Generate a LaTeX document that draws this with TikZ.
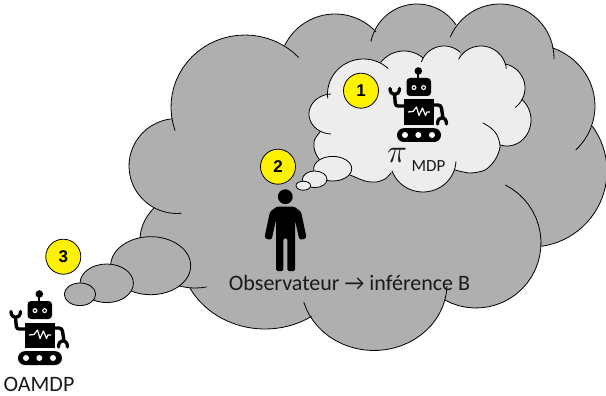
\documentclass[tikz,border=0pt]{standalone}
\usepackage{fontspec}
\setmainfont{Carlito}
\newfontfamily\numfont{Liberation Sans}
\definecolor{cloudgray}{HTML}{AFAFAF}
\definecolor{innergray}{HTML}{EDEDED}
\definecolor{inktext}{HTML}{1A1A1A}
\tikzset{
  outline/.style={draw=black,line width=0.8pt,line cap=round},
  numdot/.style={circle,draw=black,line width=0.8pt,fill=yellow,minimum size=35pt,inner sep=0pt,font=\numfont\bfseries\fontsize{17}{17}\selectfont},
  label text/.style={text=inktext,inner sep=0pt},
  robot/.pic={
    \fill[black] (418.3,71) circle (3.8);
    \draw[black,line width=2.2pt] (418.3,72) -- (418.3,80);
    \fill[black,rounded corners=3.5pt] (406.5,78) rectangle (431,96);
    \foreach \ex in {414,423.6}{
      \fill[white] (\ex,87.6) circle (2.5);
      \fill[black] (\ex,87.6) circle (1.3);
    }
    \fill[black] (403.5,99.5) rectangle (433.5,125);
    \draw[white,line width=1.2pt,line join=round] (408,112) -- (413,111.5) -- (416.5,107) -- (419,115.5) -- (422.5,108) -- (425.5,115.5) -- (427,112) -- (430,112);
    \draw[black,line width=3.4pt,line join=round,rounded corners=2.5pt] (405,106) -- (395.5,106) -- (394.5,94);
    \draw[black,line width=3.3pt,line cap=round] (390,88.5) .. controls (390,96.5) and (399.5,96.5) .. (399.5,88.5);
    \draw[black,line width=3.4pt,rounded corners=3pt] (432,105) -- (441,105) -- (443,118);
    \draw[black,line width=3.3pt,line cap=round] (437.5,124) .. controls (437.5,115.5) and (446.5,115.5) .. (446.5,124);
    \fill[black,rounded corners=6.8pt] (397,128.2) rectangle (441,142);
    \foreach \wx in {405,418.3,432}{ \fill[white] (\wx,135) circle (3); }
  }
}
% one lobe: centre x, centre y, x radius, y radius, first angle, last angle
\newcommand\ar[6]{plot[domain=#5:#6,samples=28] ({#1+#3*cos(\noexpand\x)},{#2+#4*sin(\noexpand\x)})}
\newcommand\pp[1]{plot[smooth] coordinates {#1}}
% big cloud lobes
\def\La{\ar{245}{107}{74}{72}{-43.6}{-199}}
\def\Lb{\ar{177}{166}{48}{47.5}{-96}{-275}}
\def\Lc{\ar{195}{240}{55}{48}{-139}{-282}}
\def\Ld{\ar{265}{252}{85}{77}{152}{57}}
\def\Le{\ar{374}{284}{73}{66.5}{164}{2}}
\def\Lf{\ar{476}{243}{65}{65}{119}{-63}}
\def\Lg{\ar{531}{171}{76}{76}{82}{-36}}
\def\Lh{\ar{530}{106}{65}{62}{45}{-70}}
\def\Li{\ar{500}{58}{54}{54}{1}{-157}}
\def\Lj{\ar{417}{51}{47}{47}{-34}{-168}}
\def\Lk{\ar{335}{70}{56}{56}{-43}{-154}}
% inner cloud lobes
\def\Ia{\ar{363.5}{94}{36}{35}{-47}{-187}}
\def\Ib{\ar{332}{114}{23}{20}{-93}{-267}}
\def\Ic{\pp{(320,132) (314.5,140) (314.5,150) (320,160) (335,169) (350,175) (365,181) (376,182) (385,179) (391,173)}}
\def\Id{\ar{423}{160}{33}{32}{160}{3}}
\def\Ie{\pp{(455,170) (470,173) (485,170) (495,160) (500,147) (497,135) (491,128) (483,123)}}
\def\If{\ar{507}{120}{24}{26}{106}{-52}}
\def\Ig{\ar{500}{88}{25}{24.5}{52}{-78}}
\def\Ih{\ar{481}{71.5}{25.5}{25.5}{-7}{-151}}
\def\Ii{\ar{444}{70}{24}{24}{-47}{-160}}
\def\Ij{\ar{404}{80.5}{29.5}{29.5}{-50}{-142}}
\newcommand\strokelobe[1]{\edef\lobetmp{\noexpand\draw[outline] #1;}\lobetmp}
\begin{document}
\begin{tikzpicture}[x=1pt,y=-1pt]
\useasboundingbox (0,0) rectangle (606,396);
\edef\bigfill{\noexpand\fill[cloudgray] \La -- \Lb -- \Lc -- \Ld -- \Le -- \Lf -- \Lg -- \Lh -- \Li -- \Lj -- \Lk -- cycle;}
\bigfill
\strokelobe{\La}\strokelobe{\Lb}\strokelobe{\Lc}\strokelobe{\Ld}\strokelobe{\Le}\strokelobe{\Lf}\strokelobe{\Lg}\strokelobe{\Lh}\strokelobe{\Li}\strokelobe{\Lj}\strokelobe{\Lk}
\edef\innerfill{\noexpand\fill[innergray] \Ia -- \Ib -- \Ic -- \Id -- \Ie -- \If -- \Ig -- \Ih -- \Ii -- \Ij -- cycle;}
\innerfill
\strokelobe{\Ia}\strokelobe{\Ib}\strokelobe{\Ic}\strokelobe{\Id}\strokelobe{\Ie}\strokelobe{\If}\strokelobe{\Ig}\strokelobe{\Ih}\strokelobe{\Ii}\strokelobe{\Ij}
% inner thought bubbles
\draw[outline,fill=innergray] (332.7,168.7) ellipse [x radius=19,y radius=12.3];
\draw[outline,fill=innergray] (314.7,179.3) ellipse [x radius=12.3,y radius=8.3];
\draw[outline,fill=innergray] (303.3,185.7) ellipse [x radius=7.3,y radius=4.5];
% outer thought bubbles
\draw[outline,fill=cloudgray] (150.7,265.7) ellipse [x radius=40,y radius=29];
\draw[outline,fill=cloudgray] (106.7,283.3) ellipse [x radius=26.7,y radius=19.3];
\draw[outline,fill=cloudgray] (80,294.3) ellipse [x radius=15.7,y radius=11.3];
% robots
\pic at (0,0) {robot};
\pic at (-379,223) {robot};
% person
\fill[black] (285.3,196.7) circle (7.4);
\fill[black,line join=round,rounded corners=1.5pt] (277,206.5) -- (294,206.5) -- (301,211.7) -- (306,235) .. controls (306.4,239.5) and (299.6,240.5) .. (298.7,236.7) -- (295,220) -- (295,271) -- (287.3,271) -- (287.3,238.3) -- (283.3,238.3) -- (283.3,271) -- (276,271) -- (276,220) -- (272.3,236.7) .. controls (271.4,240.5) and (264.6,239.5) .. (265,235) -- (270,211.7) -- cycle;
% labels
\node[numdot] (n1) at (361,90.7) {1};
\node[numdot] (n2) at (278,166.7) {2};
\node[numdot] (n3) at (63.3,256.7) {3};
\node[label text,font=\fontsize{17}{20}\selectfont] (piname) at (428.5,166.5) {MDP};
\node[label text] (pi) at (397,155) {\scalebox{3.3}{$\pi$}};
\node[label text,font=\fontsize{22}{26}\selectfont] (obs) at (349.5,283) {Observateur → inférence B};
\node[label text,font=\fontsize{22}{26}\selectfont] (oam) at (39,384) {OAMDP};
\end{tikzpicture}
\end{document}
